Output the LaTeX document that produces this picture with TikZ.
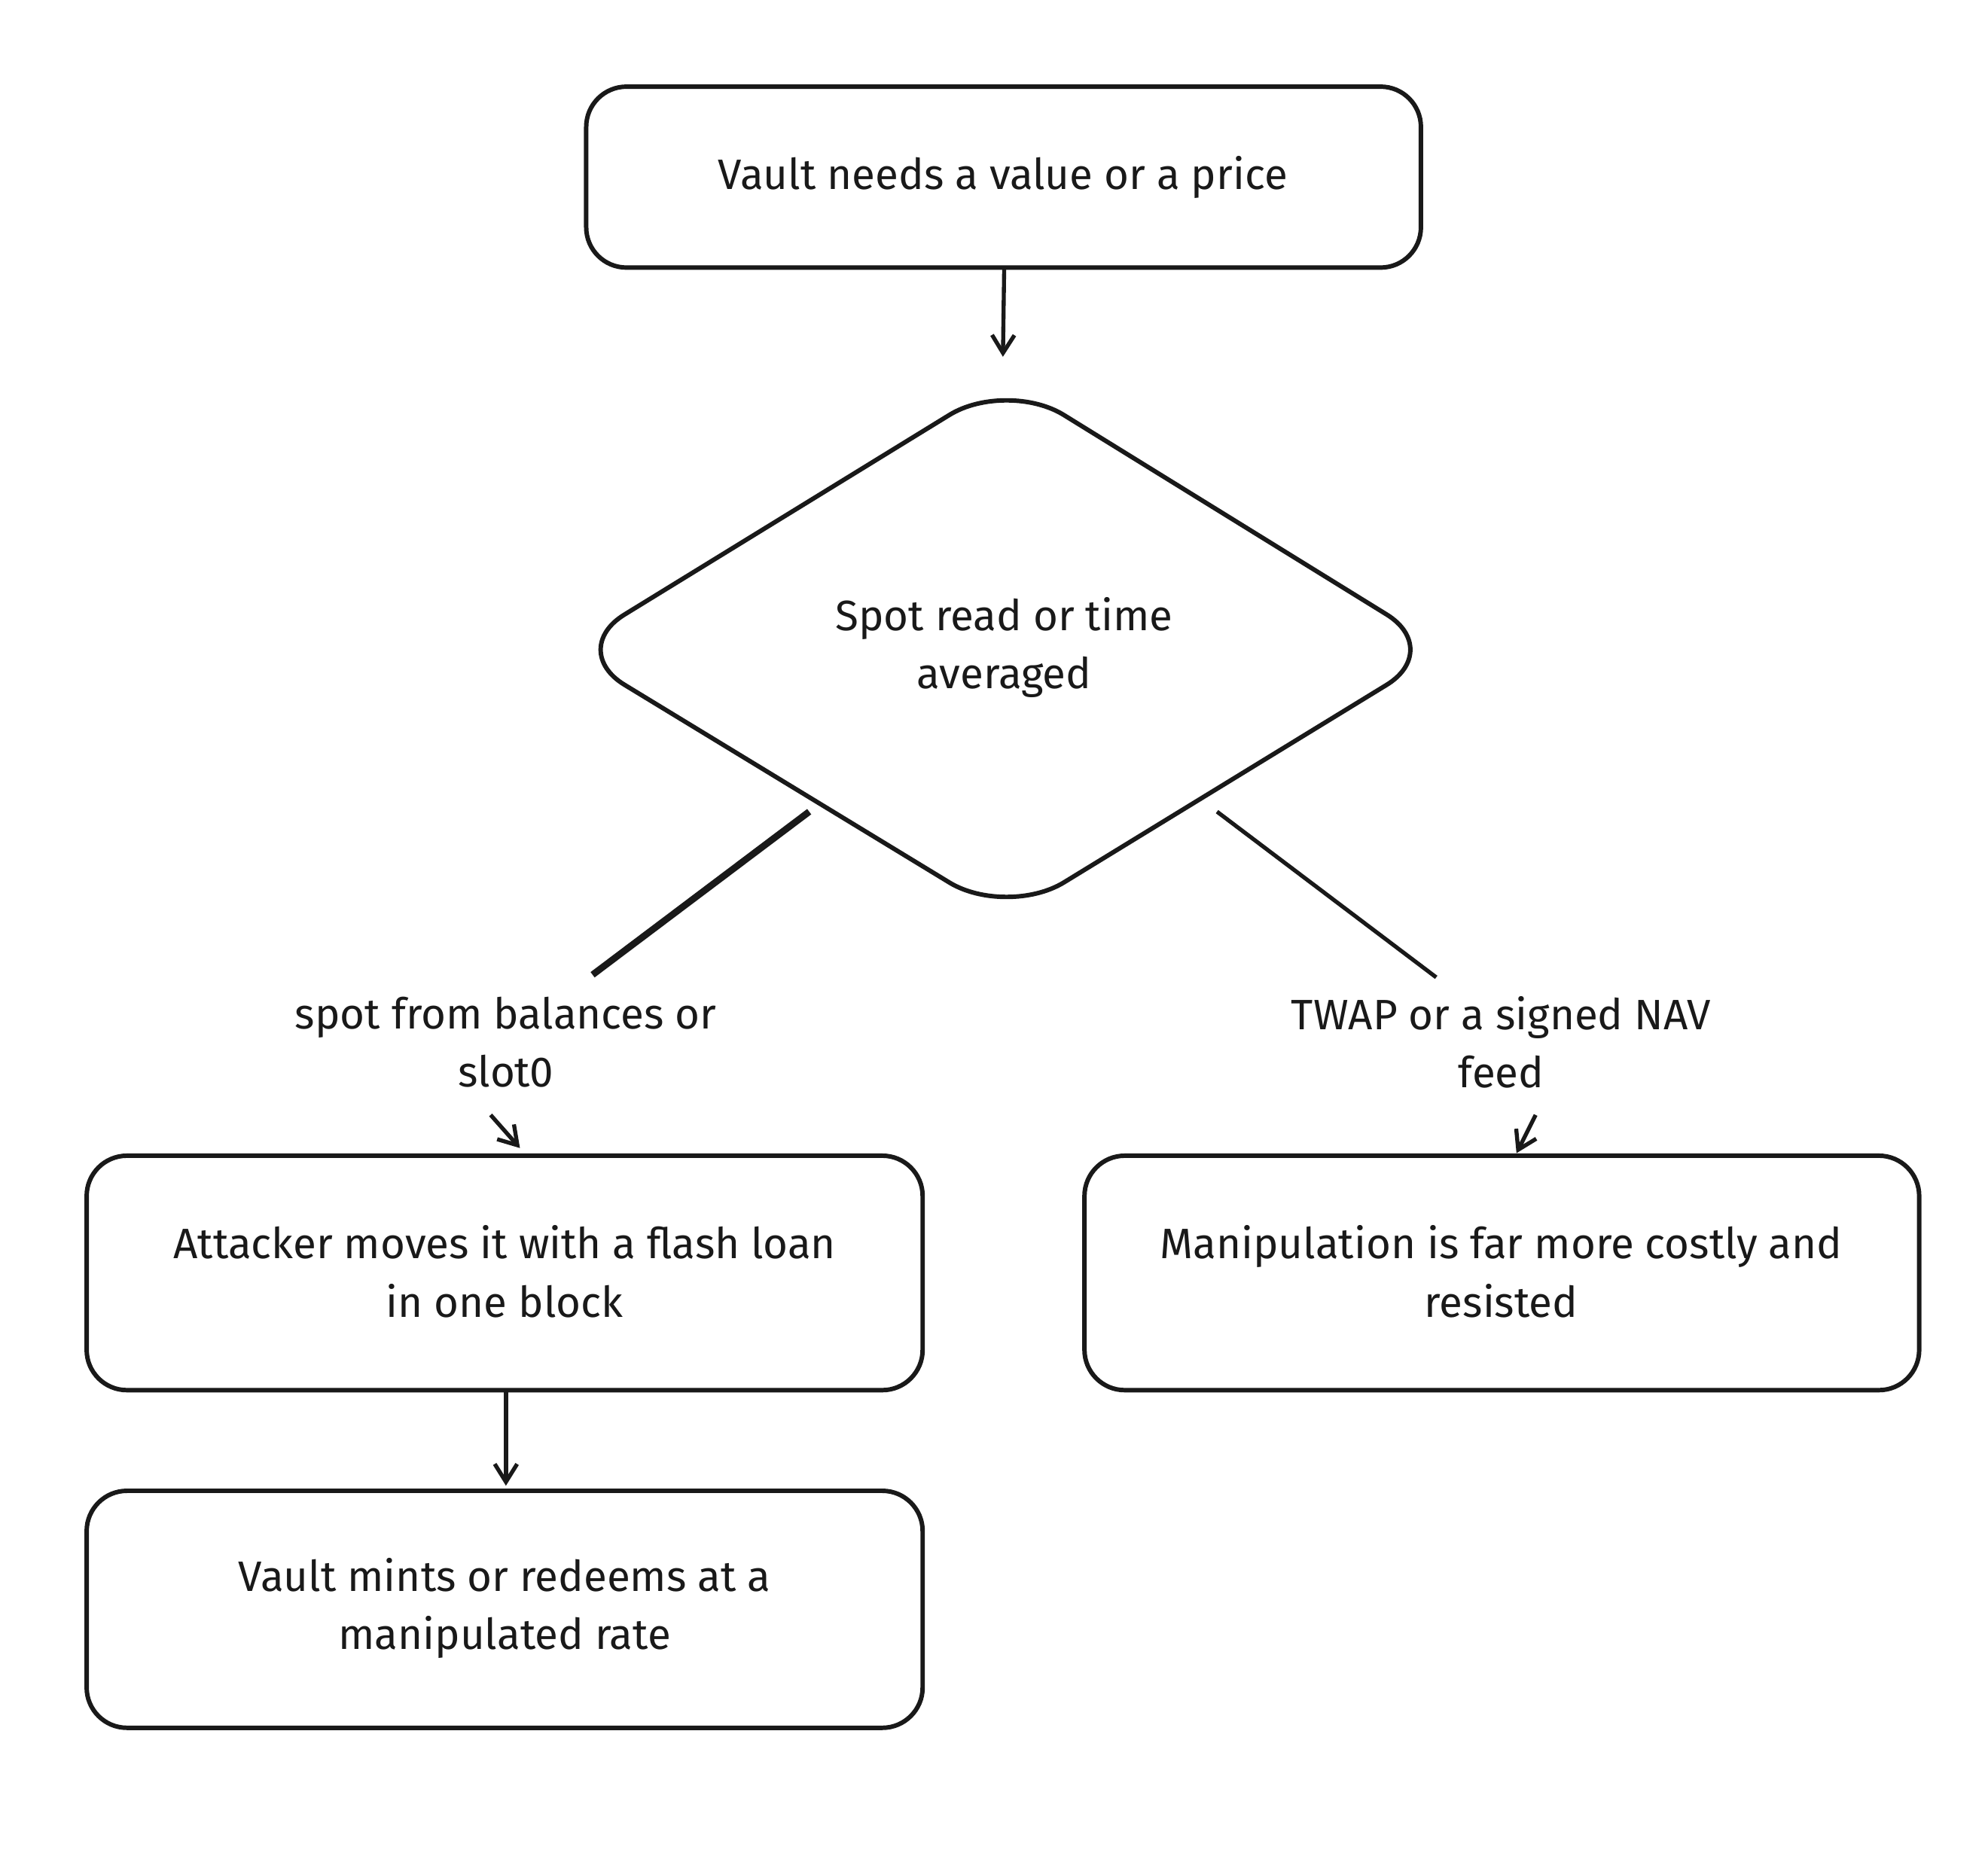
\documentclass[tikz,border=0pt]{standalone}
\usepackage{fontspec}
\setmainfont{Fira Sans}
\usetikzlibrary{shapes.geometric,arrows.meta}
\begin{document}
\begin{tikzpicture}[x=0.02cm,y=-0.02cm,
  box/.style={draw=black!90,line width=2pt,rounded corners=18pt},
  txt/.style={font=\fontsize{19}{26}\selectfont,align=center,text=black!90},
  arr/.style={draw=black!90,line width=1.8pt,-{Straight Barb[length=8pt,width=10pt]}},
  ln/.style={draw=black!90,line width=1.8pt}]
\useasboundingbox (0,0) rectangle (1560,1461);
\draw[box] (460,68) rectangle (1115,210);
\node[txt] (top) at (787,139) {Vault needs a value or a price};
\draw[box,rounded corners=30pt] (790,298) -- (1133,510) -- (790,720) -- (445,510) -- cycle;
\node[txt] (dia) at (788,508) {Spot read or time\\averaged};
\draw[box] (68,907) rectangle (724,1091);
\node[txt] (l1) at (396,998) {Attacker moves it with a flash loan\\in one block};
\draw[box] (851,907) rectangle (1506,1091);
\node[txt] (r1) at (1178,998) {Manipulation is far more costly and\\resisted};
\draw[box] (68,1170) rectangle (724,1356);
\node[txt] (l2) at (396,1262) {Vault mints or redeems at a\\manipulated rate};
\node[txt] (la) at (397,818) {spot from balances or\\slot0};
\node[txt] (ra) at (1178,818) {TWAP or a signed NAV\\feed};
\coordinate (t1) at (788,210); \coordinate (t2) at (787,280);
\draw[arr] (t1) -- (t2);
\coordinate (d1) at (635,637); \coordinate (d1e) at (465,765);
\draw[ln,line width=3pt] (d1) -- (d1e);
\coordinate (d2) at (955,637); \coordinate (d2e) at (1127,767);
\draw[ln] (d2) -- (d2e);
\coordinate (la1) at (385,875); \coordinate (la2) at (408,901);
\draw[arr] (la1) -- (la2);
\coordinate (ra1) at (1205,875); \coordinate (ra2) at (1190,905);
\draw[arr] (ra1) -- (ra2);
\coordinate (b1) at (397,1091); \coordinate (b2) at (397,1166);
\draw[arr] (b1) -- (b2);
\end{tikzpicture}
\end{document}
